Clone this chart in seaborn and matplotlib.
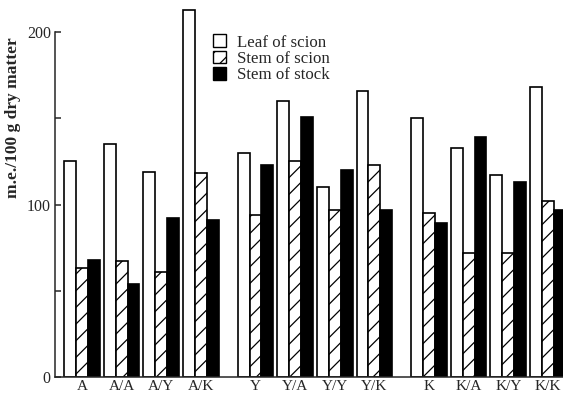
import matplotlib
matplotlib.use("Agg")
import matplotlib.pyplot as plt
from matplotlib.patches import Patch
from matplotlib.ticker import MultipleLocator
import seaborn as sns
import pandas as pd

# rootstock / scion combinations
combos = ["A", "A/A", "A/Y", "A/K",
          "Y", "Y/A", "Y/Y", "Y/K",
          "K", "K/A", "K/Y", "K/K"]
series = ["Leaf of scion", "Stem of scion", "Stem of stock"]

# m.e./100 g dry matter
leaf_scion = [125, 135, 119, 213, 130, 160, 110, 166, 150, 133, 117, 168]
stem_scion = [63, 67, 61, 118, 94, 125, 97, 123, 95, 72, 72, 102]
stem_stock = [68, 54, 92, 91, 123, 151, 120, 97, 89, 139, 113, 97]

# three blocks of four with a small gap between blocks
block_gap = 0.375
xpos = [(i // 4) * (4 + block_gap) + (i % 4) for i in range(len(combos))]

rows = []
for vals, name in zip([leaf_scion, stem_scion, stem_stock], series):
    for x, v in zip(xpos, vals):
        rows.append({"x": x, "series": name, "value": v})
df = pd.DataFrame(rows)

sns.set_style("ticks")
plt.rcParams["font.family"] = ["Liberation Serif", "DejaVu Serif"]
plt.rcParams["hatch.linewidth"] = 0.9

fig = plt.figure(figsize=(5.63, 3.96), dpi=100)
ax = fig.add_axes([55 / 563, 19 / 396, 508 / 563, 376 / 396])

colors = {"Leaf of scion": "white", "Stem of scion": "white", "Stem of stock": "black"}
sns.barplot(data=df, x="x", y="value", hue="series", hue_order=series,
            palette=colors, native_scale=True, orient="x", width=0.9,
            edgecolor="black", linewidth=1.2, legend=False, ax=ax)

for p in ax.containers[1].patches:
    p.set_hatch("//")

ax.set_xlim(-0.68, 12.13)
ax.set_ylim(0, 218)
ax.set_xticks(xpos)
ax.set_xticklabels(combos, fontsize=11)
ax.tick_params(axis="x", length=0, pad=2.5)
ax.set_yticks([0, 100, 200])
ax.yaxis.set_minor_locator(MultipleLocator(50))
ax.tick_params(axis="y", which="both", direction="in", length=4, width=1.1, labelsize=11.5, pad=3)
ax.set_xlabel("")
ax.set_ylabel("m.e./100 g dry matter", fontsize=12.5, fontweight="bold")
ax.yaxis.set_label_coords(-0.066, 0.689)

for side in ["top", "right"]:
    ax.spines[side].set_visible(False)
for side in ["left", "bottom"]:
    ax.spines[side].set_linewidth(1.1)
ax.spines["left"].set_bounds(0, 200)

handles = [Patch(facecolor="white", edgecolor="black", linewidth=1.0),
           Patch(facecolor="white", edgecolor="black", linewidth=1.0, hatch="//"),
           Patch(facecolor="black", edgecolor="black", linewidth=1.0)]
fig.legend(handles, series, loc="upper left", bbox_to_anchor=(205 / 563, 1 - 26 / 396),
           frameon=False, fontsize=12.2, handlelength=0.75, handleheight=0.75,
           handletextpad=0.65, labelspacing=0.02, borderpad=0)

fig.savefig("out.png", dpi=100)
